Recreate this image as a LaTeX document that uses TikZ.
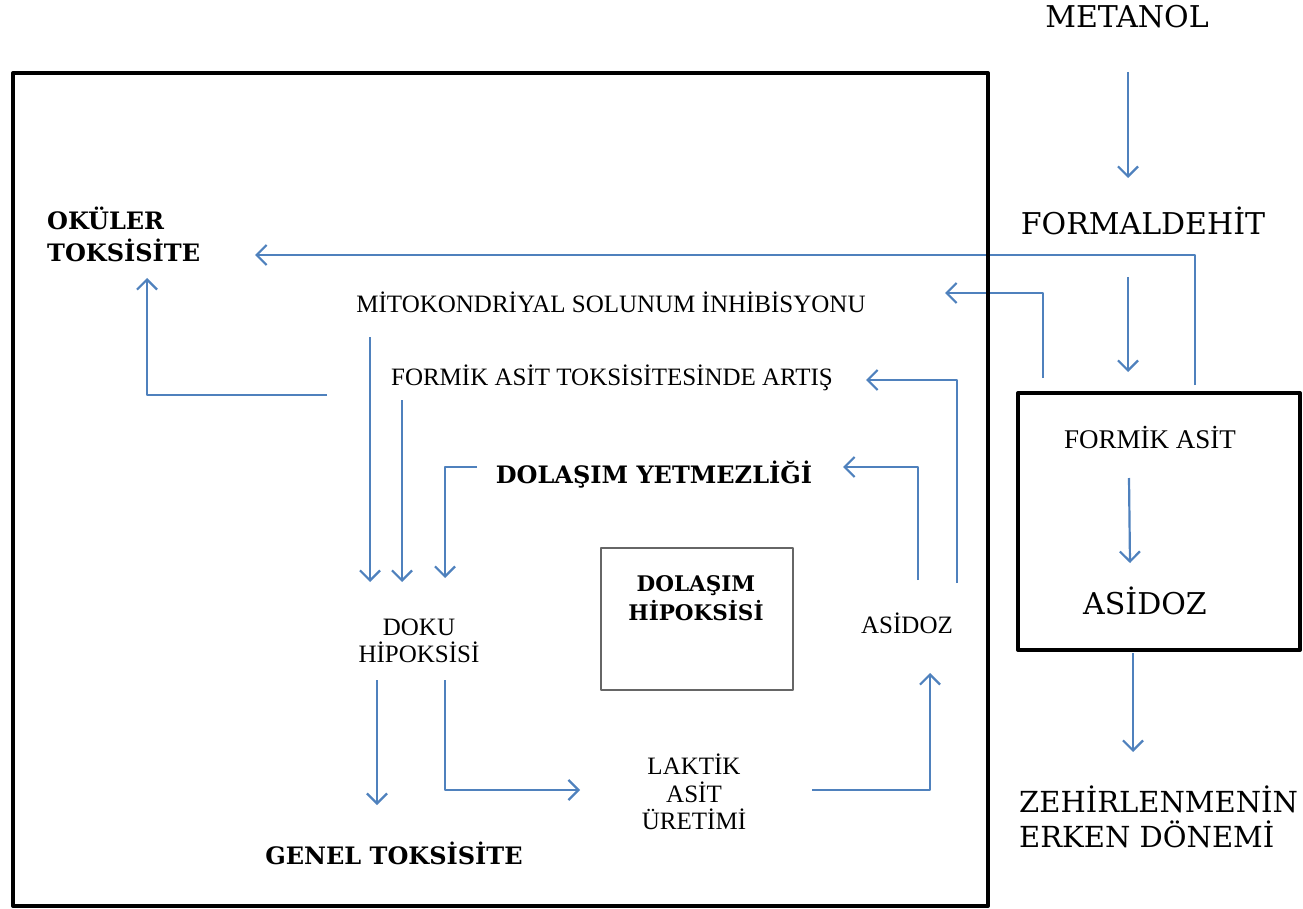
\documentclass[tikz,border=0pt]{standalone}
\usepackage{fontspec}
\setmainfont{Liberation Serif}
\newfontfamily\wideserif{DejaVu Serif}
\usetikzlibrary{arrows.meta,calc}
\definecolor{okmavi}{RGB}{79,129,189}
\begin{document}
\begin{tikzpicture}[x=1pt, y=-1pt, line join=round,
	ok/.style={draw=okmavi, line width=2.2pt, -{Straight Barb[length=10pt,width=20pt,line width=2.2pt]}},
	yazi/.style={inner sep=0pt, align=center, font=\fontsize{25}{27.5}\selectfont},
	buyuk/.style={inner sep=0pt, align=left, font=\wideserif\fontsize{30}{35}\selectfont},
	kalin/.style={inner sep=0pt, align=center, font=\wideserif\bfseries\fontsize{24}{29}\selectfont}]
	\useasboundingbox (0,0) rectangle (1303,909);
	% sag taraf
	\node[buyuk] (metanol) at (1127,17) {METANOL};
	\node[buyuk] (formal) at (1143,221) {FORMALDEHİT};
	\node[yazi, font=\fontsize{27}{30}\selectfont] (formik) at (1150,437) {FORMİK ASİT};
	\node[buyuk] (asidozR) at (1145,601) {ASİDOZ};
	\node[buyuk, anchor=west, font=\wideserif\fontsize{29}{35}\selectfont] (zehir) at (1019,817) {ZEHİRLENMENİN\\ERKEN DÖNEMİ};
	% ic kisim
	\node[kalin, align=left, anchor=west, font=\wideserif\bfseries\fontsize{24}{32}\selectfont] (oku) at (47,234) {OKÜLER\\TOKSİSİTE};
	\node[yazi] (mito) at (611,302) {MİTOKONDRİYAL SOLUNUM İNHİBİSYONU};
	\node[yazi] (fatox) at (612,378) {FORMİK ASİT TOKSİSİTESİNDE ARTIŞ};
	\node[kalin] (dyet) at (654,475) {DOLAŞIM YETMEZLİĞİ};
	\node[kalin, font=\wideserif\bfseries\fontsize{21.5}{29}\selectfont] (dhip) at (696,598) {DOLAŞIM\\HİPOKSİSİ};
	\node[yazi] (doku) at (419,641) {DOKU\\HİPOKSİSİ};
	\node[yazi] (asidozI) at (907,623) {ASİDOZ};
	\node[yazi] (laktik) at (694,792) {LAKTİK\\ASİT\\ÜRETİMİ};
	\node[kalin] (genel) at (394,853) {GENEL TOKSİSİTE};
	% oklar
	\draw[ok] ($(metanol)+(1,55)$) -- ($(formal)+(-15,-43)$);
	\draw[ok] ($(formal)+(-15,56)$) -- ($(formik)+(-22,-65)$);
	\draw[ok] ($(formik)+(-21,41)$) -- ($(asidozR)+(-15,-38)$);
	\draw[ok] ($(zehir.west)+(114,-164)$) -- ($(zehir.west)+(114,-65)$);
	\draw[ok] ($(formik)+(45,-52)$) |- ($(oku.west)+(208,21)$);
	\draw[ok] ($(formik)+(-107,-59)$) |- ($(mito)+(334,-9)$);
	\draw[ok] ($(asidozI)+(50,-40)$) |- ($(fatox)+(254,2)$);
	\draw[ok] ($(asidozI)+(11,-43)$) |- ($(dyet)+(189,-8)$);
	\draw[ok] ($(mito)+(-241,35)$) -- ($(doku)+(-49,-59)$);
	\draw[ok] ($(fatox)+(-210,22)$) -- ($(doku)+(-17,-59)$);
	\draw[ok] ($(dyet)+(-177,-8)$) -| ($(doku)+(26,-63)$);
	\draw[ok] ($(mito)+(-284,93)$) -| ($(oku.west)+(100,44)$);
	\draw[ok] ($(doku)+(-42,39)$) -- ($(genel)+(-17,-48)$);
	\draw[ok] ($(doku)+(26,39)$) |- ($(laktik)+(-114,-2)$);
	\draw[ok] ($(laktik)+(118,-2)$) -| ($(asidozI)+(23,50)$);
	% kutular
	\draw[line width=4pt] (13,73) rectangle (988,906);
	\draw[line width=4pt] (1018,393) rectangle (1300,650);
	\draw[line width=2pt, draw=black!60] (601,548) rectangle (793,690);
\end{tikzpicture}
\end{document}
